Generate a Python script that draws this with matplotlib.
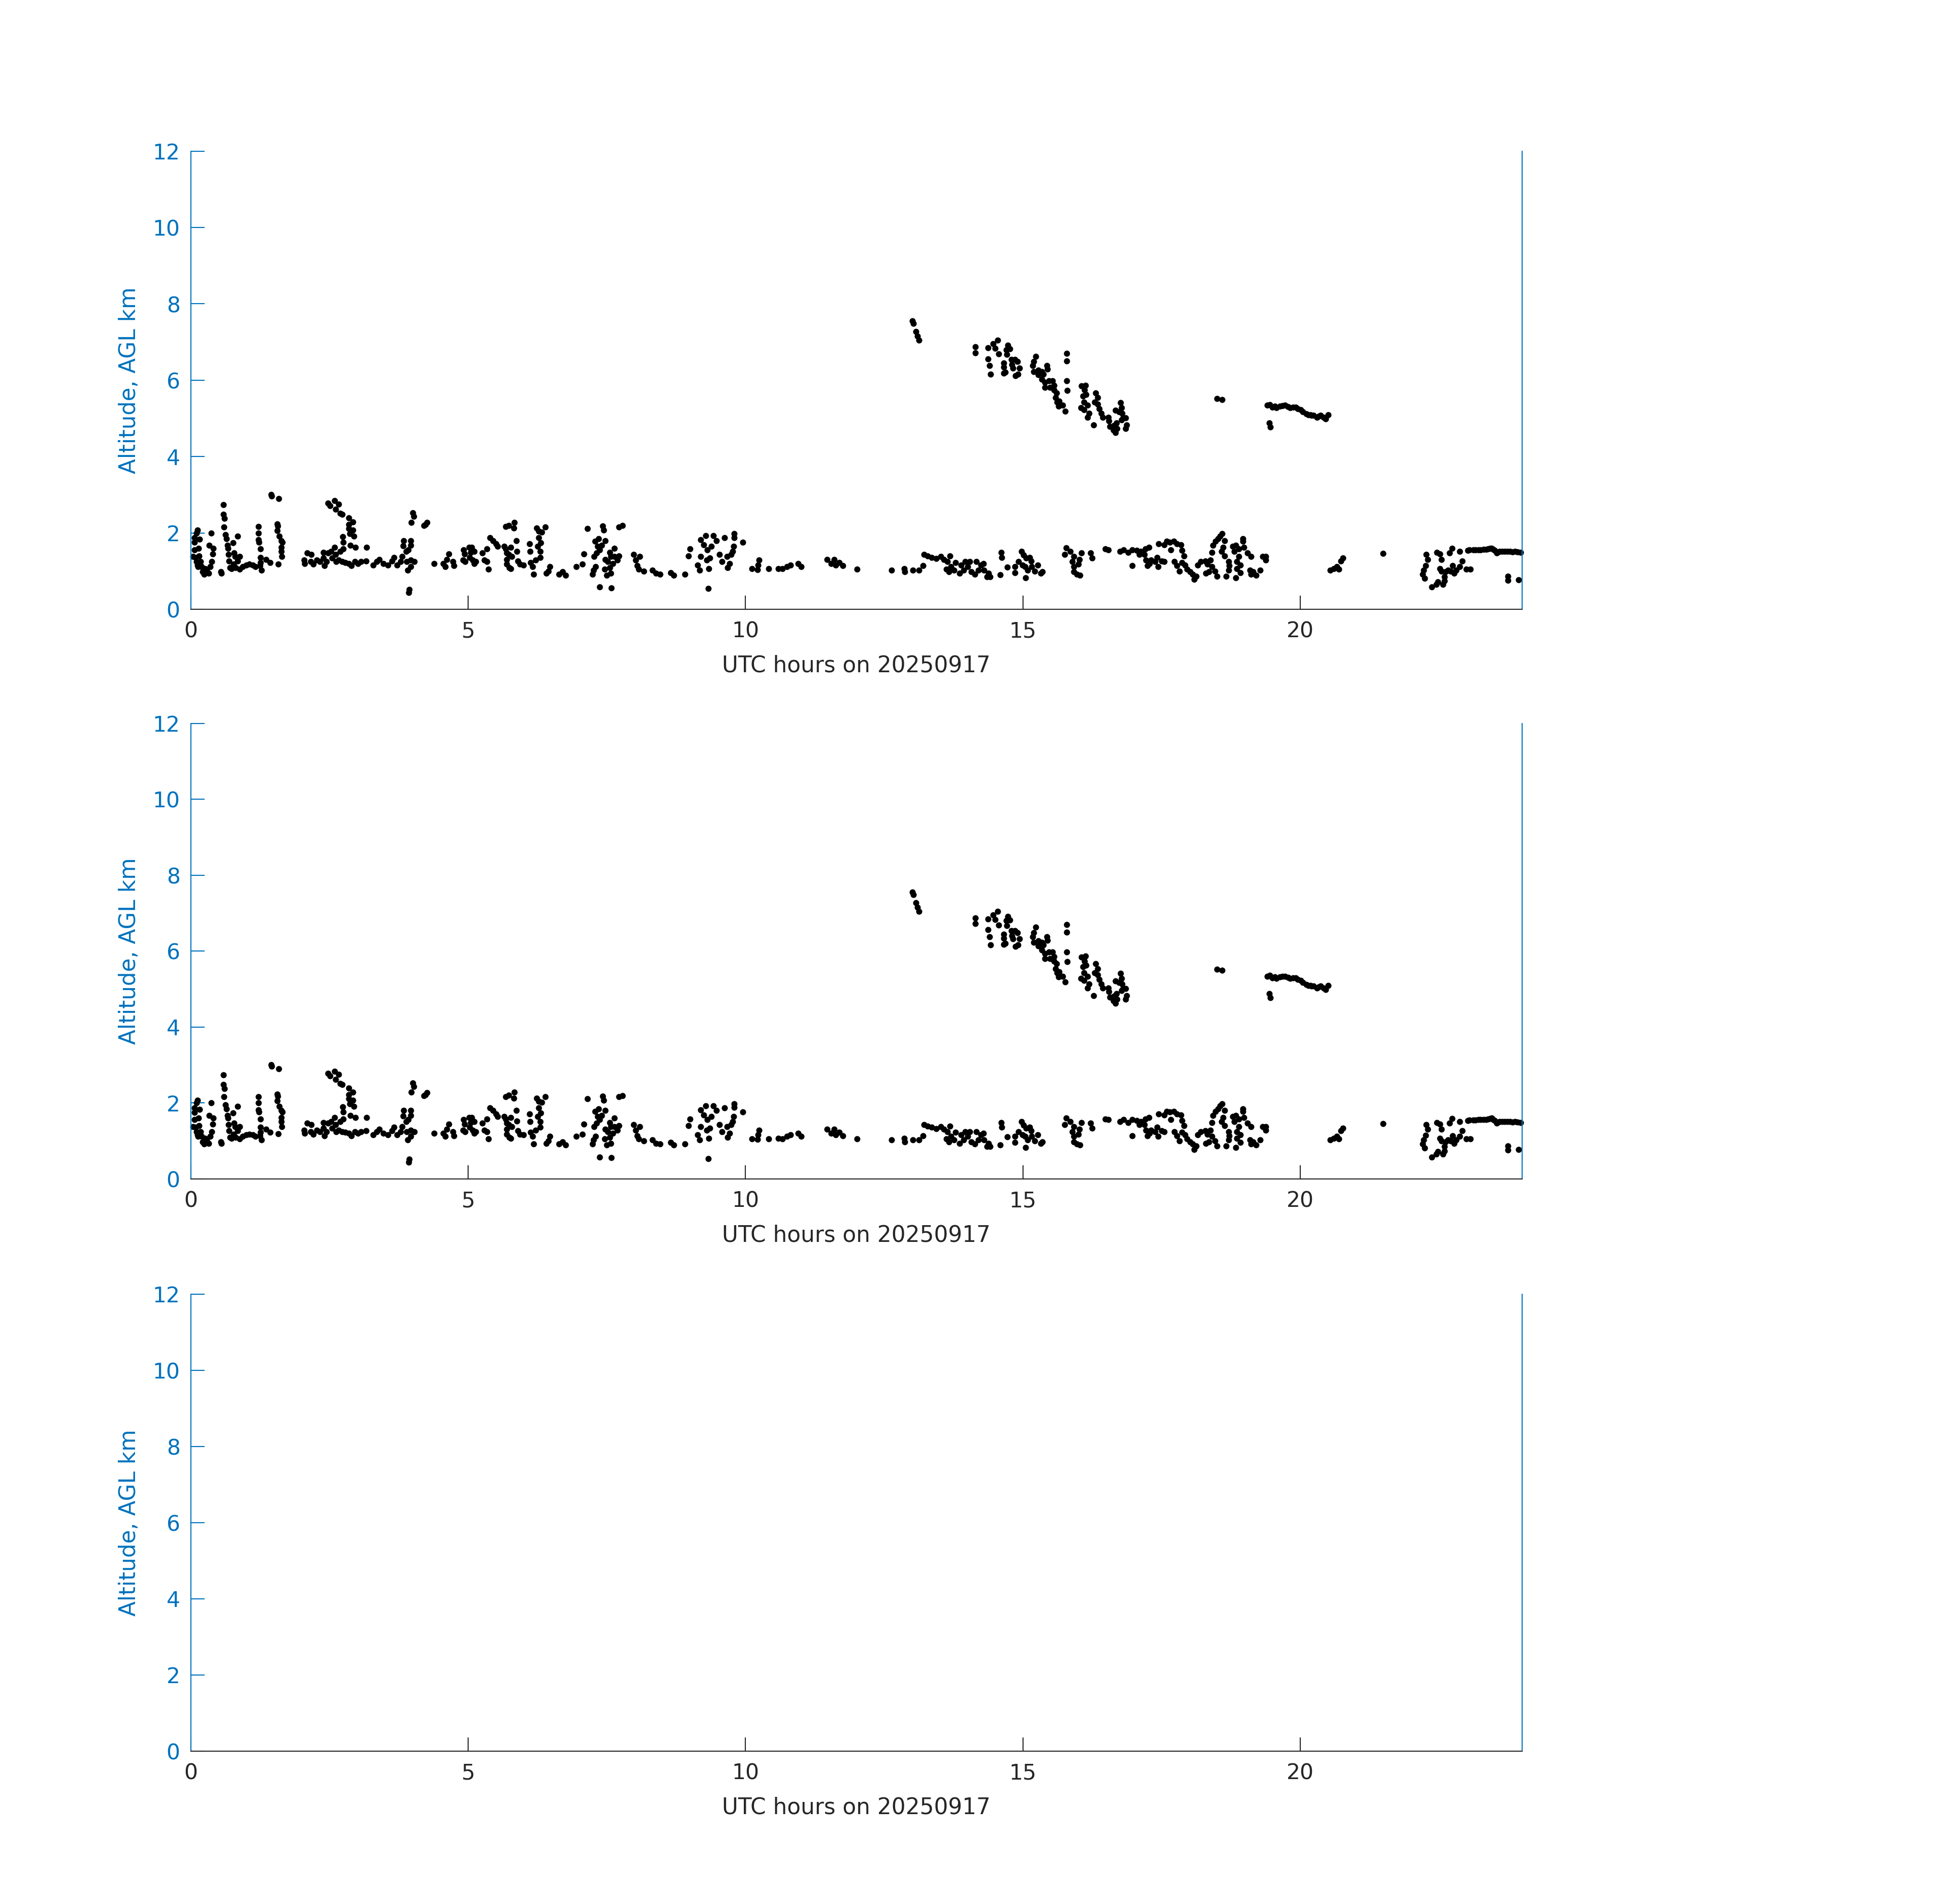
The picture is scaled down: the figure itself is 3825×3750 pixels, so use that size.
import matplotlib
matplotlib.use('Agg')
import matplotlib.pyplot as plt

# cloud base altitudes, lower layer (hours UTC, km AGL)
low_hours = [
    0.12, 0.10, 0.07, 0.16, 0.07, 0.14, 0.07, 0.04, 0.09, 0.15, 0.10, 0.12, 0.18, 0.20, 0.24, 0.29, 0.32, 0.35, 0.38, 0.40,
    0.41, 0.33, 0.37, 0.26, 0.13, 0.21, 0.55, 0.54,
    0.59, 0.59, 0.61, 0.60, 0.63, 0.64, 0.66, 0.67, 0.68, 0.69, 0.71, 0.76, 0.85, 0.78, 0.80, 0.88, 0.85, 0.77, 0.74, 0.81,
    0.88, 0.94, 1.00, 1.06, 1.12, 1.17, 1.25, 1.28,
    1.22, 1.22, 1.22, 1.23, 1.26, 1.26, 1.26, 1.36, 1.43,
    1.45, 1.46, 1.59, 1.56, 1.57, 1.56, 1.60, 1.63, 1.65, 1.63, 1.63, 1.64, 1.58,
    2.04, 2.05, 2.10, 2.17, 2.16, 2.21, 2.27, 2.33, 2.39, 2.39, 2.41, 2.45, 2.47, 2.53, 2.55, 2.59, 2.61, 2.62, 2.69, 2.67,
    2.73, 2.79, 2.85, 2.90, 2.96, 3.01, 3.07, 3.16, 3.29, 3.35, 3.40, 3.47, 3.55, 3.63, 3.66, 3.72, 3.78, 3.81, 3.88, 3.89,
    3.91, 3.97, 3.97, 4.03,
    2.47, 2.51, 2.59, 2.67, 2.61, 2.69, 2.73,
    2.85, 2.85, 2.92, 2.85, 2.92, 2.87, 2.94, 2.74, 2.75, 2.75, 2.88, 2.97, 3.17,
    3.84, 3.97, 3.83, 3.97, 3.92, 4.00, 4.02, 3.98, 3.94, 3.93, 4.23, 4.26, 4.20, 4.39,
    4.55, 4.59, 4.65, 4.62, 4.73, 4.74,
    4.92, 4.94, 4.91, 4.95, 5.02, 5.06, 5.05, 5.11, 5.03, 5.08, 5.11, 5.14, 5.26, 5.34, 5.29, 5.34, 5.37, 5.39, 5.45, 5.50,
    5.53, 5.65, 5.68, 5.70, 5.73, 5.70, 5.70, 5.74, 5.77, 5.79, 5.77, 5.68, 5.73, 5.83, 5.82, 5.87, 5.88, 5.90, 5.93, 6.00,
    6.11, 6.12, 6.13, 6.16, 6.18, 6.24, 6.27, 6.33, 6.39, 6.27, 6.31, 6.25, 6.30, 6.30, 6.22, 6.41, 6.45, 6.47, 6.64, 6.70,
    6.76, 6.95, 7.06, 7.09, 7.15, 7.24, 7.26, 7.30, 7.27, 7.29, 7.35, 7.33, 7.37, 7.41, 7.32, 7.47, 7.43, 7.44, 7.47, 7.46,
    7.50, 7.52, 7.55, 7.57, 7.55, 7.57, 7.61, 7.64, 7.64, 7.69, 7.72, 7.72, 7.78, 7.37, 7.58, 7.98, 8.02, 8.09, 8.05, 8.08,
    8.17, 8.32, 8.39, 8.46, 8.65, 8.71, 8.91, 9.00, 8.97, 9.17, 9.14, 9.19, 9.19, 9.28, 9.25, 9.31, 9.30, 9.34, 9.33, 9.42,
    9.48, 9.38, 9.36, 9.53, 9.58, 9.62,
    9.67, 9.71, 9.74, 9.68, 9.77, 9.80, 9.80, 9.79, 9.95, 10.12, 10.24, 10.23, 10.22, 10.42, 10.59, 10.67, 10.75, 10.81,
    10.95, 11.00, 11.47, 11.54, 11.60, 11.63, 11.69, 11.75, 12.01, 12.63, 12.86, 12.87, 13.02, 13.13, 13.20,
    13.22, 13.28, 13.36, 13.44, 13.52, 13.58, 13.64, 13.69, 13.62, 13.67, 13.70, 13.76, 13.79, 13.86, 13.89, 13.93, 13.96,
    14.01, 14.04, 14.07, 14.13, 14.16, 14.20, 14.24, 14.29, 14.30, 14.35, 14.41, 14.38,
    14.61, 14.62, 14.59, 14.72, 14.86, 14.86, 14.92, 14.98, 15.01, 15.06, 14.99, 15.04, 15.09, 15.15, 15.16, 15.21, 15.27,
    15.32, 15.35, 15.05, 15.12, 15.78, 15.75, 15.85, 15.92, 15.89, 15.92, 15.92, 15.97, 16.03, 16.00, 16.02, 16.06, 16.22,
    16.25, 16.49, 16.54, 16.75, 16.82, 16.90, 16.97, 17.05, 17.13, 17.21, 17.27, 17.10, 17.19, 17.22, 17.28, 17.25, 17.31,
    17.38, 17.42, 17.44, 17.50, 17.55, 16.97, 17.45, 17.55, 17.59, 17.65, 17.72, 17.78, 17.85, 17.67, 17.87, 17.90, 17.73,
    17.78, 17.82, 17.87, 17.92, 17.96, 18.01, 18.06, 18.09, 18.12, 18.15, 18.21, 18.29, 18.33, 18.38, 18.30, 18.35, 18.41,
    18.46, 18.50, 18.41, 18.43, 18.47, 18.52, 18.55, 18.59, 18.64, 18.61, 18.58, 18.64, 18.71, 18.72, 18.71, 18.66, 18.78,
    18.81, 18.84, 18.89, 18.89, 18.86, 18.92, 18.86, 18.92, 18.84, 18.97, 18.97, 18.98, 19.05, 19.11, 19.09, 19.11, 19.15,
    19.20, 19.28, 19.32,
    19.38, 19.38, 20.54, 20.60, 20.66, 20.70, 20.73, 20.77, 21.49, 22.27, 22.30, 22.26, 22.22, 22.21, 22.24, 22.37, 22.45,
    22.48, 22.57, 22.60, 22.46, 22.52, 22.54, 22.52, 22.54, 22.60, 22.62, 22.66, 22.71, 22.75, 22.77, 22.81, 22.87, 22.92,
    22.99, 23.07, 22.69, 22.74, 22.87, 23.02, 23.12, 23.21, 23.30, 23.39, 23.45, 23.51, 23.54, 23.60, 23.69, 23.78, 23.87,
    23.97, 23.74, 23.74, 23.94, 23.05, 23.16, 23.25, 23.35, 23.42, 23.48, 23.57, 23.64, 23.73, 23.83, 23.92,
]
low_alt = [
    2.07, 2.00, 1.87, 1.83, 1.75, 1.60, 1.56, 1.38, 1.36, 1.40, 1.25, 1.16, 1.25, 1.12, 0.92, 1.03, 0.94, 1.12, 1.25, 1.45,
    1.60, 1.67, 2.00, 1.07, 1.12, 0.98, 0.94, 0.98,
    2.74, 2.49, 2.38, 2.16, 1.95, 1.85, 1.67, 1.60, 1.43, 1.27, 1.09, 1.74, 1.91, 1.47, 1.38, 1.38, 1.27, 1.18, 1.07, 1.09,
    1.05, 1.12, 1.16, 1.18, 1.16, 1.12, 1.14, 1.03,
    2.17, 2.00, 1.82, 1.76, 1.58, 1.36, 1.23, 1.31, 1.23,
    3.01, 2.97, 2.90, 2.23, 2.18, 2.06, 1.91, 1.80, 1.76, 1.62, 1.51, 1.38, 1.19,
    1.29, 1.20, 1.47, 1.43, 1.25, 1.18, 1.29, 1.25, 1.49, 1.34, 1.14, 1.25, 1.47, 1.51, 1.34, 1.62, 1.43, 1.25, 1.51, 1.29,
    1.25, 1.23, 1.20, 1.14, 1.25, 1.20, 1.25, 1.27, 1.16, 1.25, 1.31, 1.20, 1.16, 1.27, 1.36, 1.16, 1.25, 1.38, 1.51, 1.25,
    1.03, 1.29, 1.12, 1.25,
    2.78, 2.71, 2.84, 2.75, 2.62, 2.51, 2.49,
    2.39, 2.22, 2.29, 2.11, 2.07, 1.98, 1.91, 1.90, 1.76, 1.58, 1.67, 1.62, 1.62,
    1.80, 1.80, 1.66, 1.67, 1.56, 2.53, 2.44, 2.28, 0.52, 0.44, 2.22, 2.27, 2.19, 1.20,
    1.20, 1.12, 1.45, 1.31, 1.25, 1.14,
    1.56, 1.45, 1.29, 1.25, 1.62, 1.62, 1.49, 1.51, 1.36, 1.29, 1.20, 1.25, 1.47, 1.58, 1.29, 1.25, 1.05, 1.87, 1.80, 1.71,
    1.65, 1.65, 1.58, 1.47, 1.43, 1.31, 1.18, 1.09, 1.07, 1.38, 1.62, 2.17, 2.20, 2.28, 2.13, 1.80, 1.52, 1.27, 1.18, 1.16,
    1.71, 1.51, 1.23, 1.12, 0.92, 2.13, 2.05, 2.02, 2.16, 1.87, 1.74, 1.65, 1.51, 1.36, 1.29, 0.94, 1.00, 1.12, 0.92, 0.98,
    0.89, 1.12, 1.18, 1.45, 2.11, 0.92, 1.03, 1.12, 1.38, 1.78, 1.85, 1.65, 1.56, 1.67, 1.47, 1.80, 2.18, 2.07, 1.31, 1.05,
    0.89, 1.25, 1.49, 1.38, 1.09, 0.94, 1.20, 1.60, 1.38, 1.29, 1.40, 2.16, 2.19, 0.58, 0.56, 1.43, 1.29, 1.38, 1.14, 1.05,
    1.00, 1.03, 0.94, 0.92, 0.96, 0.89, 0.92, 1.58, 1.40, 1.03, 1.16, 1.38, 1.82, 1.93, 1.69, 1.56, 1.29, 1.07, 0.54, 1.93,
    1.80, 1.65, 1.34, 1.43, 1.25, 1.87,
    1.38, 1.20, 1.43, 1.09, 1.51, 1.98, 1.88, 1.65, 1.76, 1.06, 1.29, 1.16, 1.04, 1.06, 1.07, 1.06, 1.12, 1.16,
    1.20, 1.12, 1.31, 1.20, 1.31, 1.16, 1.23, 1.14, 1.05, 1.03, 1.07, 0.98, 1.03, 1.03, 1.14,
    1.43, 1.39, 1.36, 1.33, 1.38, 1.31, 1.25, 1.39, 1.05, 0.98, 1.12, 1.03, 1.23, 0.94, 1.16, 1.03, 1.25,
    1.12, 1.25, 0.98, 0.92, 1.25, 1.03, 1.16, 1.20, 1.03, 0.85, 0.85, 0.94,
    1.49, 1.36, 0.90, 1.11, 1.12, 0.96, 1.25, 1.51, 1.42, 1.34, 1.16, 1.12, 1.03, 1.27, 1.12, 1.00, 1.16,
    0.94, 0.98, 0.83, 1.36, 1.61, 1.43, 1.51, 1.38, 1.25, 1.12, 0.98, 0.92, 0.89, 1.18, 1.31, 1.48, 1.47,
    1.34, 1.58, 1.56, 1.51, 1.56, 1.49, 1.56, 1.54, 1.51, 1.58, 1.62, 1.43, 1.43, 1.29, 1.20, 1.14, 1.29,
    1.25, 1.36, 1.12, 1.27, 1.25, 1.14, 1.71, 1.69, 1.78, 1.76, 1.78, 1.71, 1.69, 1.56, 1.54, 1.40, 1.25,
    1.14, 1.00, 1.23, 1.16, 1.05, 0.98, 0.92, 0.78, 0.87, 1.16, 1.25, 1.27, 1.18, 1.29, 0.94, 0.98, 1.12,
    1.00, 0.87, 1.49, 1.67, 1.78, 1.85, 1.92, 1.98, 1.80, 1.62, 1.51, 1.40, 1.25, 1.14, 1.03, 0.87, 1.65,
    1.51, 1.67, 1.58, 1.38, 1.25, 1.16, 1.07, 0.96, 0.83, 1.85, 1.78, 1.62, 1.47, 1.38, 1.03, 0.92, 0.98,
    0.89, 1.03, 1.38,
    1.38, 1.29, 1.03, 1.07, 1.12, 1.05, 1.27, 1.34, 1.46, 1.43, 1.31, 1.15, 1.03, 0.92, 0.81, 0.58, 0.65,
    0.72, 0.65, 0.74, 1.49, 1.45, 1.31, 1.07, 1.00, 0.85, 0.98, 1.03, 1.00, 1.14, 0.94, 1.03, 1.12, 1.27,
    1.05, 1.05, 1.47, 1.59, 1.51, 1.54, 1.55, 1.56, 1.57, 1.58, 1.60, 1.54, 1.47, 1.51, 1.51, 1.51, 1.51,
    1.49, 0.87, 0.76, 0.77, 1.55, 1.55, 1.56, 1.57, 1.59, 1.57, 1.50, 1.51, 1.51, 1.50, 1.50,
]

# upper layer
high_hours = [
    13.01, 13.03, 13.07, 13.10, 13.13, 14.14, 14.14, 14.37, 14.46, 14.55, 14.50, 14.56, 14.37, 14.40, 14.42, 14.66, 14.66,
    14.66, 14.73, 14.70, 14.77, 14.71, 14.79, 14.86, 14.80, 14.90, 14.82, 14.94, 14.91, 14.87, 14.68, 15.23, 15.20, 15.18,
    15.20, 15.28, 15.34, 15.43, 15.44, 15.28, 15.37, 15.34, 15.40, 15.47, 15.53, 15.49, 15.40, 15.56, 15.56, 15.61, 15.59,
    15.62, 15.65, 15.64, 15.72, 15.76, 15.79, 15.79, 15.79, 15.80, 16.06, 16.13, 16.11, 16.14, 16.08, 16.10, 16.17, 16.05,
    16.10, 16.19, 16.17, 16.28, 16.31, 16.35, 16.29, 16.35, 16.38, 16.41, 16.44, 16.54, 16.55, 16.57, 16.63, 16.67, 16.70,
    16.69, 16.67, 16.73, 16.76, 16.78, 16.79, 16.78, 16.81, 16.85, 16.87, 16.85, 16.64, 18.50, 18.59,
    19.41, 19.50, 19.63, 19.73, 19.82, 19.92, 20.01, 20.11, 20.24, 20.37, 20.46, 20.50, 19.44, 19.46, 19.57, 20.30, 20.18,
    19.95, 19.45, 19.54, 19.68, 19.78, 19.87, 20.05, 20.15, 20.20, 20.33, 20.42,
]
high_alt = [
    7.56, 7.49, 7.27, 7.16, 7.05, 6.87, 6.72, 6.85, 6.96, 7.05, 6.83, 6.69, 6.56, 6.38, 6.16, 6.45, 6.18,
    6.34, 6.91, 6.80, 6.82, 6.67, 6.54, 6.54, 6.41, 6.49, 6.32, 6.32, 6.16, 6.12, 6.21, 6.63, 6.49, 6.38,
    6.23, 6.27, 6.23, 6.38, 6.29, 6.14, 6.16, 6.03, 5.94, 5.98, 5.98, 5.81, 5.81, 5.86, 5.74, 5.67, 5.54,
    5.43, 5.45, 5.32, 5.34, 5.19, 6.70, 6.50, 5.98, 5.73, 5.85, 5.87, 5.74, 5.63, 5.59, 5.43, 5.34, 5.28,
    5.23, 5.14, 5.03, 4.83, 5.67, 5.54, 5.43, 5.37, 5.25, 5.14, 5.03, 5.03, 4.93, 4.79, 4.70, 4.63, 4.74,
    4.88, 5.21, 5.17, 5.41, 5.28, 5.14, 4.96, 5.01, 5.01, 4.83, 4.74, 4.81, 5.52, 5.49,
    5.34, 5.30, 5.32, 5.34, 5.28, 5.30, 5.23, 5.12, 5.08, 5.08, 4.99, 5.10, 4.88, 4.77, 5.28, 5.03, 5.10,
    5.26, 5.36, 5.32, 5.33, 5.31, 5.29, 5.18, 5.10, 5.08, 5.06, 5.03,
]

x_ticks = [0, 5, 10, 15, 20]
y_ticks = [0, 2, 4, 6, 8, 10, 12]
date_str = '20250917'

blue = '#0072BD'
dark = '#262626'

positions = [
    [0.0982, 0.6800, 0.6856, 0.2406],
    [0.0982, 0.3808, 0.6856, 0.2393],
    [0.0982, 0.0803, 0.6856, 0.2400],
]


def style_axes(ax):
    ax.set_xlim(0, 24)
    ax.set_ylim(0, 12)
    ax.set_xticks(x_ticks)
    ax.set_yticks(y_ticks)
    ax.spines['top'].set_visible(False)
    ax.spines['left'].set_color(blue)
    ax.spines['right'].set_color(blue)
    ax.spines['bottom'].set_color(dark)
    for s in ax.spines.values():
        s.set_linewidth(0.5)
    ax.tick_params(axis='x', direction='in', length=6.5, width=0.5, colors=dark,
                   labelsize=10.2, pad=5.5)
    ax.tick_params(axis='y', direction='in', length=6.5, width=0.5, colors=blue,
                   labelsize=10.2, pad=5, right=False)
    ax.set_xlabel('UTC hours on ' + date_str, fontsize=10.5, color=dark, labelpad=6)
    ax.set_ylabel('Altitude, AGL km', fontsize=10.5, color=blue, labelpad=6)


fig = plt.figure(figsize=(12.75, 12.5), dpi=300)

for i, pos in enumerate(positions):
    ax = fig.add_axes(pos)
    if i < 2:
        ax.plot(low_hours, low_alt, 'o', color='black', ms=2.9, mew=0, clip_on=False)
        ax.plot(high_hours, high_alt, 'o', color='black', ms=2.9, mew=0, clip_on=False)
    style_axes(ax)

fig.savefig('out.png', dpi=300, facecolor='white')
